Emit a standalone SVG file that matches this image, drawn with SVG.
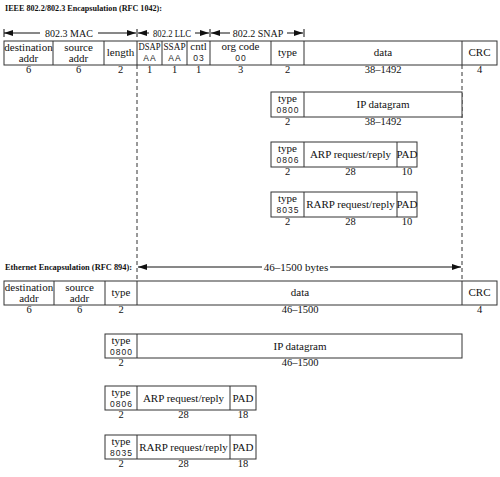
<svg xmlns="http://www.w3.org/2000/svg" width="500" height="477" viewBox="0 0 500 477">
<style>
.bx{fill:#fff;stroke:#333;stroke-width:1}
.dv{stroke:#333;stroke-width:1}
.t{font-family:"Liberation Serif",serif;font-size:11px;fill:#111;text-anchor:middle}
.s{font-family:"Liberation Serif",serif;font-size:10px;fill:#111;text-anchor:middle}
.n{font-family:"Liberation Serif",serif;font-size:10.5px;fill:#111;text-anchor:middle}
.h{font-family:"Liberation Sans",sans-serif;font-size:8.5px;letter-spacing:1px;fill:#222;text-anchor:middle}
.ti{font-family:"Liberation Serif",serif;font-size:8.5px;font-weight:bold;fill:#111}
.ar{stroke:#111;stroke-width:1;fill:none}
.dash{stroke:#333;stroke-width:1;stroke-dasharray:4,3}
</style>
<defs>
<marker id="ah" markerUnits="userSpaceOnUse" markerWidth="9" markerHeight="7" viewBox="0 0 9 7" refX="9" refY="3.5" orient="auto-start-reverse">
<path d="M0,0.5 L9,3.5 L0,6.5 z" fill="#111"/>
</marker>
</defs>

<text class="ti" x="5" y="11" textLength="157" lengthAdjust="spacingAndGlyphs">IEEE 802.2/802.3 Encapsulation (RFC 1042):</text>
<text class="ti" x="5" y="270" textLength="127" lengthAdjust="spacingAndGlyphs">Ethernet Encapsulation (RFC 894):</text>

<g id="connectors">
<line class="dash" x1="137" y1="65" x2="137" y2="281"/>
<line class="dash" x1="462" y1="65" x2="462" y2="281"/>
<g id="span-mac">
<line class="ar" x1="4" y1="29" x2="4" y2="37"/>
<line class="ar" x1="4" y1="33" x2="40" y2="33" marker-start="url(#ah)"/>
<line class="ar" x1="98" y1="33" x2="136" y2="33" marker-end="url(#ah)"/>
<text class="s" x="69" y="36.5">802.3 MAC</text>
</g>
<g id="span-llc">
<line class="ar" x1="137" y1="29" x2="137" y2="37"/>
<line class="ar" x1="138" y1="33" x2="149" y2="33" marker-start="url(#ah)"/>
<line class="ar" x1="195" y1="33" x2="209" y2="33" marker-end="url(#ah)"/>
<text class="s" x="172" y="36.5" textLength="38" lengthAdjust="spacingAndGlyphs">802.2 LLC</text>
</g>
<g id="span-snap">
<line class="ar" x1="210" y1="29" x2="210" y2="37"/>
<line class="ar" x1="211" y1="33" x2="230" y2="33" marker-start="url(#ah)"/>
<line class="ar" x1="287" y1="33" x2="303" y2="33" marker-end="url(#ah)"/>
<line class="ar" x1="304" y1="29" x2="304" y2="37"/>
<text class="s" x="258" y="36.5">802.2 SNAP</text>
</g>
<g id="span-eth">
<line class="ar" x1="138" y1="267" x2="262" y2="267" marker-start="url(#ah)"/>
<line class="ar" x1="330" y1="267" x2="461" y2="267" marker-end="url(#ah)"/>
<text class="t" x="296" y="271">46–1500 bytes</text>
</g>
</g>

<g id="ieee-frame">
<rect class="bx" x="4" y="41" width="493" height="24"/>
<path class="dv" d="M53,41V65M104,41V65M137,41V65M162,41V65M187,41V65M210,41V65M271,41V65M304,41V65M462,41V65"/>
<text class="t" x="28.5" y="51">destination</text><text class="t" x="28.5" y="61.5">addr</text>
<text class="t" x="78.5" y="51">source</text><text class="t" x="78.5" y="61.5">addr</text>
<text class="t" x="120.5" y="56">length</text>
<text class="s" x="149.5" y="50" textLength="22" lengthAdjust="spacingAndGlyphs">DSAP</text><text class="h" x="150" y="61">AA</text>
<text class="s" x="174.5" y="50" textLength="22" lengthAdjust="spacingAndGlyphs">SSAP</text><text class="h" x="175" y="61">AA</text>
<text class="t" x="198.5" y="50">cntl</text><text class="h" x="199" y="61">03</text>
<text class="t" x="240.5" y="50">org code</text><text class="h" x="241" y="61">00</text>
<text class="t" x="287.5" y="56">type</text>
<text class="t" x="383" y="56">data</text>
<text class="t" x="479.5" y="56">CRC</text>
<text class="n" x="28.5" y="73">6</text><text class="n" x="78.5" y="73">6</text><text class="n" x="120.5" y="73">2</text>
<text class="n" x="149.5" y="73">1</text><text class="n" x="174.5" y="73">1</text><text class="n" x="198.5" y="73">1</text>
<text class="n" x="240.5" y="73">3</text><text class="n" x="287.5" y="73">2</text>
<text class="n" x="383" y="73">38–1492</text><text class="n" x="479.5" y="73">4</text>
</g>

<g id="ieee-ip">
<rect class="bx" x="271" y="92" width="191" height="25"/>
<path class="dv" d="M304,92V117"/>
<text class="t" x="287.5" y="102">type</text><text class="h" x="288" y="113">0800</text>
<text class="t" x="383" y="108">IP datagram</text>
<text class="n" x="287.5" y="125">2</text><text class="n" x="383" y="125">38–1492</text>
</g>

<g id="ieee-arp">
<rect class="bx" x="271" y="142" width="146" height="25"/>
<path class="dv" d="M304,142V167M397,142V167"/>
<text class="t" x="287.5" y="152">type</text><text class="h" x="288" y="163">0806</text>
<text class="t" x="350.5" y="158">ARP request/reply</text>
<text class="t" x="407" y="158">PAD</text>
<text class="n" x="287.5" y="175">2</text><text class="n" x="350.5" y="175">28</text><text class="n" x="407" y="175">10</text>
</g>

<g id="ieee-rarp">
<rect class="bx" x="271" y="192" width="146" height="25"/>
<path class="dv" d="M304,192V217M397,192V217"/>
<text class="t" x="287.5" y="202">type</text><text class="h" x="288" y="213">8035</text>
<text class="t" x="350.5" y="208">RARP request/reply</text>
<text class="t" x="407" y="208">PAD</text>
<text class="n" x="287.5" y="225">2</text><text class="n" x="350.5" y="225">28</text><text class="n" x="407" y="225">10</text>
</g>

<g id="eth-frame">
<rect class="bx" x="4" y="281" width="493" height="24"/>
<path class="dv" d="M54,281V305M105,281V305M137,281V305M462,281V305"/>
<text class="t" x="29" y="291">destination</text><text class="t" x="29" y="301.5">addr</text>
<text class="t" x="79.5" y="291">source</text><text class="t" x="79.5" y="301.5">addr</text>
<text class="t" x="121" y="296">type</text>
<text class="t" x="300" y="296">data</text>
<text class="t" x="479.5" y="296">CRC</text>
<text class="n" x="29" y="313">6</text><text class="n" x="79.5" y="313">6</text><text class="n" x="121" y="313">2</text>
<text class="n" x="300" y="313">46–1500</text><text class="n" x="479.5" y="313">4</text>
</g>

<g id="eth-ip">
<rect class="bx" x="105" y="334" width="357" height="24"/>
<path class="dv" d="M137,334V358"/>
<text class="t" x="121" y="344">type</text><text class="h" x="121.5" y="355">0800</text>
<text class="t" x="300" y="350">IP datagram</text>
<text class="n" x="121" y="366">2</text><text class="n" x="300" y="366">46–1500</text>
</g>

<g id="eth-arp">
<rect class="bx" x="105" y="386" width="151" height="24"/>
<path class="dv" d="M137,386V410M230,386V410"/>
<text class="t" x="121" y="396">type</text><text class="h" x="121.5" y="407">0806</text>
<text class="t" x="183.5" y="402">ARP request/reply</text>
<text class="t" x="243" y="402">PAD</text>
<text class="n" x="121" y="418">2</text><text class="n" x="183.5" y="418">28</text><text class="n" x="243" y="418">18</text>
</g>

<g id="eth-rarp">
<rect class="bx" x="105" y="435" width="151" height="24"/>
<path class="dv" d="M137,435V459M230,435V459"/>
<text class="t" x="121" y="445">type</text><text class="h" x="121.5" y="456">8035</text>
<text class="t" x="183.5" y="451">RARP request/reply</text>
<text class="t" x="243" y="451">PAD</text>
<text class="n" x="121" y="467">2</text><text class="n" x="183.5" y="467">28</text><text class="n" x="243" y="467">18</text>
</g>
</svg>
